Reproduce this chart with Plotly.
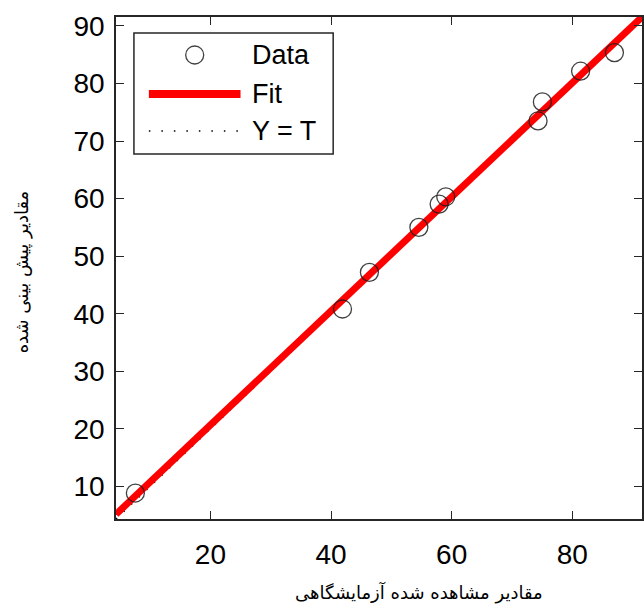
import plotly.graph_objects as go

# ---- data ----
observed = [7.55, 41.9, 46.36, 54.56, 57.92, 59.02, 74.32, 75.04, 81.38, 86.99]
predicted = [8.85, 40.83, 47.2, 55.01, 59.06, 60.32, 73.51, 76.81, 82.14, 85.38]
fit_x = [4.34, 91.56]
fit_y = [5.17, 91.56]
ident_x = [4.34, 91.56]
ident_y = [4.34, 91.56]
axis_range = [4.34, 91.56]
x_ticks = [20, 40, 60, 80]
y_ticks = [10, 20, 30, 40, 50, 60, 70, 80, 90]
legend_labels = ["Data", "Fit", "Y = T"]
x_title = "مقادیر مشاهده شده آزمایشگاهی"
y_title = "مقادیر پیش بینی شده"

W, H = 644, 607
L, R, T, B = 116, 0, 17, 88
PW, PH = W - L - R, H - T - B

def px(x):
    return (x - L) / PW

def py(y):
    return (H - B - y) / PH

fig = go.Figure()
fig.add_trace(go.Scatter(x=ident_x, y=ident_y, mode="lines",
                         line=dict(color="black", width=1.5, dash="1.5px,9px"),
                         showlegend=False, hoverinfo="skip"))
fig.add_trace(go.Scatter(x=fit_x, y=fit_y, mode="lines",
                         line=dict(color="#ff0000", width=7),
                         showlegend=False))
fig.add_trace(go.Scatter(x=observed, y=predicted, mode="markers",
                         marker=dict(symbol="circle-open", size=18,
                                     color="rgba(30,30,30,0.85)",
                                     line=dict(width=1.3)),
                         showlegend=False))

axis_common = dict(
    range=axis_range, showgrid=False, zeroline=False,
    showline=True, linecolor="#262626", linewidth=1.5, mirror="ticks",
    ticks="inside", ticklen=8, tickwidth=1.3, tickcolor="#262626",
    tickfont=dict(family="Liberation Sans, Arial", size=28, color="black"),
)
fig.update_xaxes(**axis_common, tickvals=x_ticks, ticklabelstandoff=10)
fig.update_yaxes(**axis_common, tickvals=y_ticks, ticklabelstandoff=4)

shapes = []
# legend box
shapes.append(dict(type="rect", xref="paper", yref="paper",
                   x0=px(134), x1=px(334), y0=py(154), y1=py(33),
                   line=dict(color="#262626", width=1.5), fillcolor="white", layer="above"))
# legend samples
shapes.append(dict(type="circle", xref="paper", yref="paper",
                   xsizemode="pixel", ysizemode="pixel",
                   xanchor=px(195), yanchor=py(55),
                   x0=-9, x1=9, y0=-9, y1=9,
                   line=dict(color="rgba(30,30,30,0.85)", width=1.3), layer="above"))
shapes.append(dict(type="line", xref="paper", yref="paper",
                   x0=px(149), x1=px(241), y0=py(94), y1=py(94),
                   line=dict(color="#ff0000", width=8), layer="above"))
shapes.append(dict(type="line", xref="paper", yref="paper",
                   x0=px(149), x1=px(241), y0=py(131), y1=py(131),
                   line=dict(color="black", width=1.5, dash="1.5px,11px"), layer="above"))

annotations = []
for lab, yy in zip(legend_labels, [55, 94, 131]):
    annotations.append(dict(text=lab, xref="paper", yref="paper",
                            x=px(251), y=py(yy), xanchor="left", yanchor="middle",
                            showarrow=False,
                            font=dict(family="Liberation Sans, Arial", size=27, color="black")))
annotations.append(dict(text=x_title, xref="paper", yref="paper",
                        x=px(420), y=py(592), xanchor="center", yanchor="middle",
                        showarrow=False,
                        font=dict(family="DejaVu Serif, DejaVu Sans", size=18, color="black")))
annotations.append(dict(text=y_title, xref="paper", yref="paper",
                        x=px(22), y=py(272), xanchor="center", yanchor="middle",
                        textangle=-90, showarrow=False,
                        font=dict(family="DejaVu Serif, DejaVu Sans", size=18, color="black")))

fig.update_layout(
    width=W, height=H,
    margin=dict(l=L, r=R, t=T, b=B),
    paper_bgcolor="white", plot_bgcolor="white",
    shapes=shapes, annotations=annotations,
    showlegend=False,
)

fig.write_html("out.html")
